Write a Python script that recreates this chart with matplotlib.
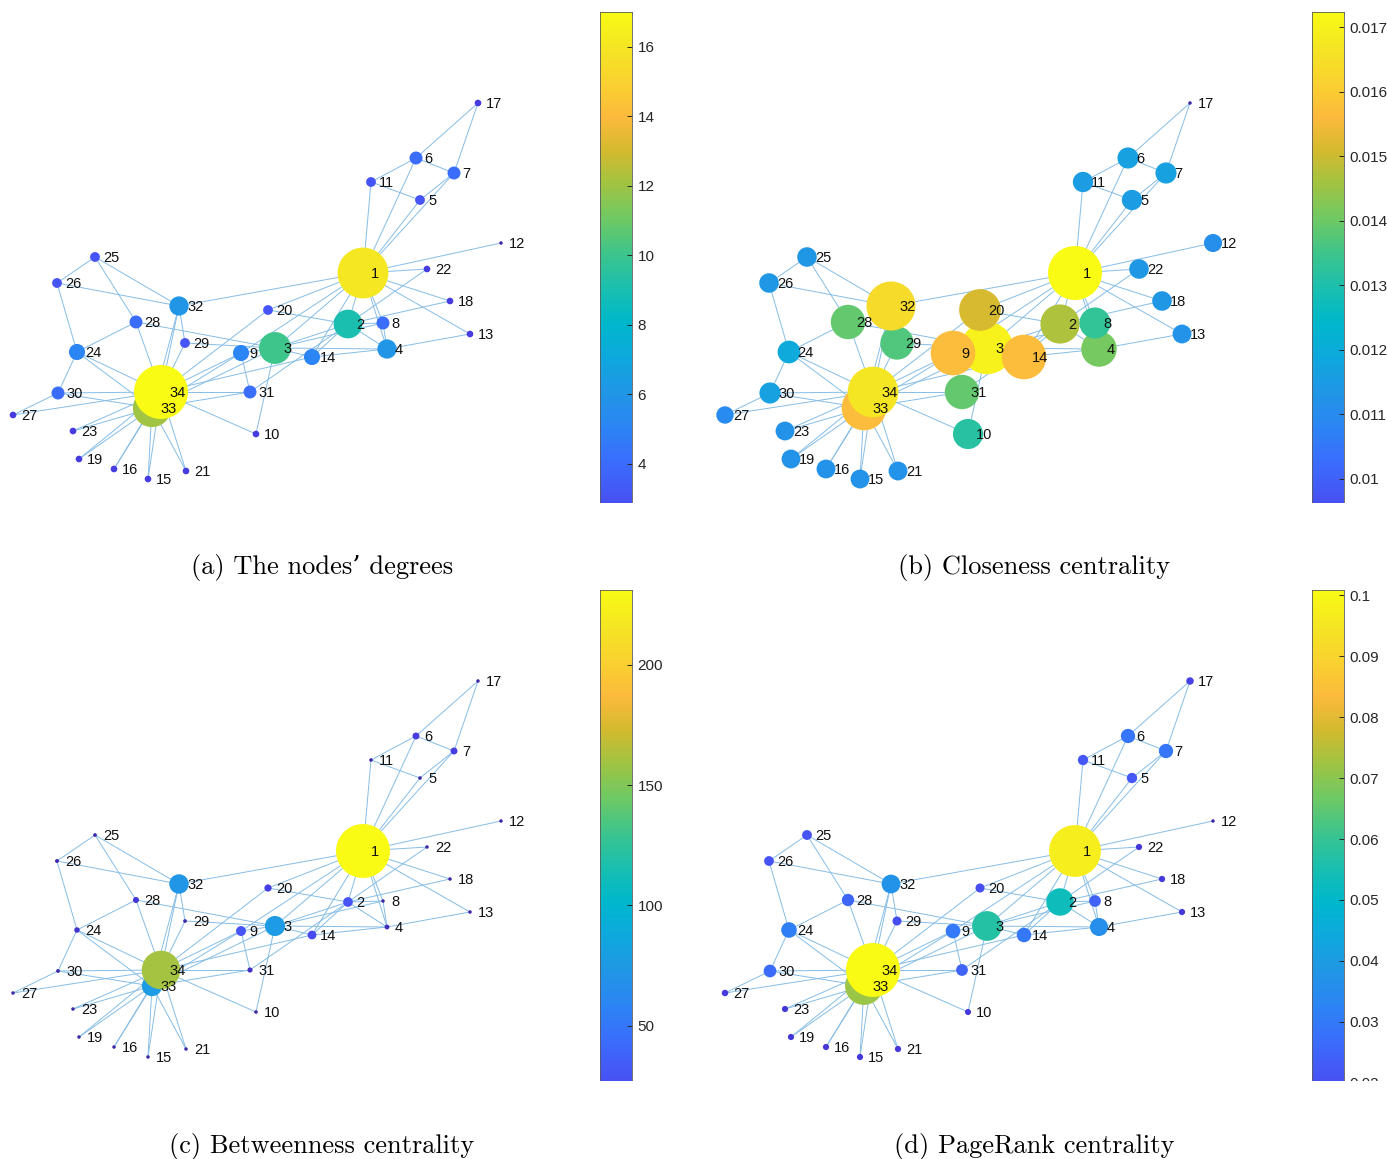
import numpy as np
import matplotlib.pyplot as plt
from matplotlib.collections import LineCollection
from matplotlib.colors import LinearSegmentedColormap
from matplotlib.patches import Rectangle

W, H, DPI = 1387, 1159, 100

# karate club layout (same layout in every panel)
nodes = list(range(1, 35))
x = [363, 348, 275, 387, 420, 416, 454, 383, 241, 256, 371, 501, 470, 312, 148, 114, 478,
     450, 79, 268, 186, 427, 73, 77, 95, 57, 13, 136, 185, 58, 250, 179, 152, 161]
y = [273, 324, 348, 349, 200, 158, 173, 323, 353, 434, 182, 243, 334, 357, 479, 469, 103,
     301, 459, 310, 471, 269, 431, 352, 257, 283, 415, 322, 343, 393, 392, 306, 408, 392]

edges = [(1, 2), (1, 3), (1, 4), (1, 5), (1, 6), (1, 7), (1, 8), (1, 9), (1, 11), (1, 12),
         (1, 13), (1, 14), (1, 18), (1, 20), (1, 22), (1, 32), (2, 3), (2, 4), (2, 8), (2, 14),
         (2, 18), (2, 20), (2, 22), (2, 31), (3, 4), (3, 8), (3, 9), (3, 10), (3, 14), (3, 28),
         (3, 29), (3, 33), (4, 8), (4, 13), (4, 14), (5, 7), (5, 11), (6, 7), (6, 11), (6, 17),
         (7, 17), (9, 31), (9, 33), (9, 34), (10, 34), (14, 34), (15, 33), (15, 34), (16, 33),
         (16, 34), (19, 33), (19, 34), (20, 34), (21, 33), (21, 34), (23, 33), (23, 34),
         (24, 26), (24, 28), (24, 30), (24, 33), (24, 34), (25, 26), (25, 28), (25, 32),
         (26, 32), (27, 30), (27, 34), (28, 34), (29, 32), (29, 34), (30, 33), (30, 34),
         (31, 33), (31, 34), (32, 33), (32, 34), (33, 34)]

degree = [16, 9, 10, 6, 3, 4, 4, 4, 5, 2, 3, 1, 2, 5, 2, 2, 2, 2, 2, 3, 2, 2, 2, 5, 3, 3,
          2, 4, 3, 4, 4, 6, 12, 17]
closeness = [0.01724, 0.01471, 0.01695, 0.01408, 0.01149, 0.01163, 0.01163, 0.01333,
             0.01563, 0.01316, 0.01149, 0.01111, 0.01124, 0.01563, 0.01124, 0.01124,
             0.00862, 0.01136, 0.01124, 0.01515, 0.01124, 0.01136, 0.01124, 0.01190,
             0.01136, 0.01136, 0.01099, 0.01389, 0.01370, 0.01163, 0.01389, 0.01639,
             0.01563, 0.01667]
betweenness = [231.07, 28.48, 75.85, 6.29, 0.33, 15.83, 15.83, 0.0, 29.53, 0.45, 0.33, 0.0,
               0.0, 24.22, 0.0, 0.0, 0.0, 0.0, 0.0, 17.15, 0.0, 0.0, 0.0, 9.30, 1.17, 2.03,
               0.0, 11.79, 0.95, 1.54, 7.61, 73.01, 76.69, 160.16]
pagerank = [0.0970, 0.0529, 0.0571, 0.0359, 0.0220, 0.0291, 0.0291, 0.0245, 0.0298, 0.0143,
            0.0220, 0.0096, 0.0146, 0.0295, 0.0145, 0.0145, 0.0168, 0.0146, 0.0145, 0.0196,
            0.0145, 0.0146, 0.0145, 0.0315, 0.0211, 0.0210, 0.0150, 0.0256, 0.0196, 0.0263,
            0.0246, 0.0372, 0.0717, 0.1009]

deg_ticks = [4, 6, 8, 10, 12, 14, 16]
clo_ticks = [0.010, 0.011, 0.012, 0.013, 0.014, 0.015, 0.016, 0.017]
btw_ticks = [50, 100, 150, 200]
pr_ticks = [0.02, 0.03, 0.04, 0.05, 0.06, 0.07, 0.08, 0.09, 0.10]

captions = ["(a) The nodes\u2019 degrees", "(b) Closeness centrality",
            "(c) Betweenness centrality", "(d) PageRank centrality"]

# parula-like colormap
parula = LinearSegmentedColormap.from_list("parula", [
    (0.000, (0.2422, 0.1504, 0.6603)),
    (0.060, (0.2750, 0.2250, 0.8700)),
    (0.125, (0.2780, 0.3300, 0.9600)),
    (0.190, (0.2300, 0.4300, 0.9900)),
    (0.250, (0.1750, 0.5200, 0.9600)),
    (0.315, (0.1300, 0.5900, 0.9000)),
    (0.375, (0.0600, 0.6600, 0.8700)),
    (0.440, (0.0000, 0.7200, 0.8000)),
    (0.500, (0.1000, 0.7500, 0.6900)),
    (0.560, (0.2300, 0.7700, 0.5600)),
    (0.625, (0.4300, 0.7900, 0.4000)),
    (0.690, (0.6300, 0.7700, 0.2600)),
    (0.750, (0.8300, 0.7300, 0.1800)),
    (0.810, (0.9900, 0.7300, 0.2400)),
    (0.870, (0.9800, 0.8200, 0.1900)),
    (0.935, (0.9600, 0.9000, 0.1400)),
    (1.000, (0.9769, 0.9839, 0.0805)),
])

panels = [
    (degree, deg_ticks, [str(t) for t in deg_ticks], 0, 0),
    (closeness, clo_ticks, ["%g" % t for t in clo_ticks], 712, 0),
    (betweenness, btw_ticks, [str(t) for t in btw_ticks], 0, 578),
    (pagerank, pr_ticks, ["%g" % t for t in pr_ticks], 712, 578),
]

fig = plt.figure(figsize=(W / DPI, H / DPI), dpi=DPI)

segs = [[(x[a - 1], y[a - 1]), (x[b - 1], y[b - 1])] for a, b in edges]

for (vals, ticks, tlabels, dx, dy), cap in zip(panels, captions):
    vals = np.array(vals, dtype=float)
    vmin, vmax = vals.min(), vals.max()

    ax = fig.add_axes([dx / W, 1 - (dy + 545) / H, 580 / W, 545 / H])
    ax.set_xlim(0, 580)
    ax.set_ylim(545, 0)
    ax.axis("off")

    ax.add_collection(LineCollection(segs, colors="#86bde6", linewidths=0.7, zorder=1))

    diam = 3.5 + (vals - vmin) / (vmax - vmin) * 50.5
    ax.scatter(x, y, s=(diam * 72 / DPI) ** 2, c=vals, cmap=parula, vmin=vmin, vmax=vmax,
               edgecolors="none", zorder=2)
    for n, xi, yi in zip(nodes, x, y):
        ax.text(xi + 8, yi + 1, str(n), fontsize=10.5, family="Liberation Sans",
                color="#111111", ha="left", va="center", zorder=3)

    # colorbar
    cax = fig.add_axes([(dx + 600) / W, 1 - (dy + 12 + 556) / H, 32 / W, 556 / H])
    grad = np.linspace(vmin, vmax, 512).reshape(-1, 1)
    cax.imshow(grad, cmap=parula, vmin=vmin, vmax=vmax, aspect="auto", origin="lower",
               extent=[0, 1, vmin, vmax])
    cax.set_xlim(0, 1)
    cax.set_ylim(vmin, vmax)
    cax.set_xticks([])
    cax.yaxis.tick_right()
    cax.set_yticks(ticks)
    cax.set_yticklabels(tlabels)
    cax.tick_params(axis="y", direction="in", length=3.5, width=0.7, pad=4,
                    labelsize=11, colors="#262626")
    for sp in cax.spines.values():
        sp.set_color("#5a5a5a")
        sp.set_linewidth(0.6)
    for lab in cax.get_yticklabels():
        lab.set_family("Liberation Sans")

    fig.text((dx + 322) / W, 1 - (dy + 568) / H, cap, fontsize=19,
             family=["cmr10", "DejaVu Serif"], ha="center", va="center")

    # the colorbar is cut off below the graph area
    fig.add_artist(Rectangle(((dx + 590) / W, 1 - (dy + 578) / H), 130 / W, 75 / H,
                             transform=fig.transFigure, facecolor="white",
                             edgecolor="none", zorder=10))

fig.savefig("out.png", dpi=DPI)
